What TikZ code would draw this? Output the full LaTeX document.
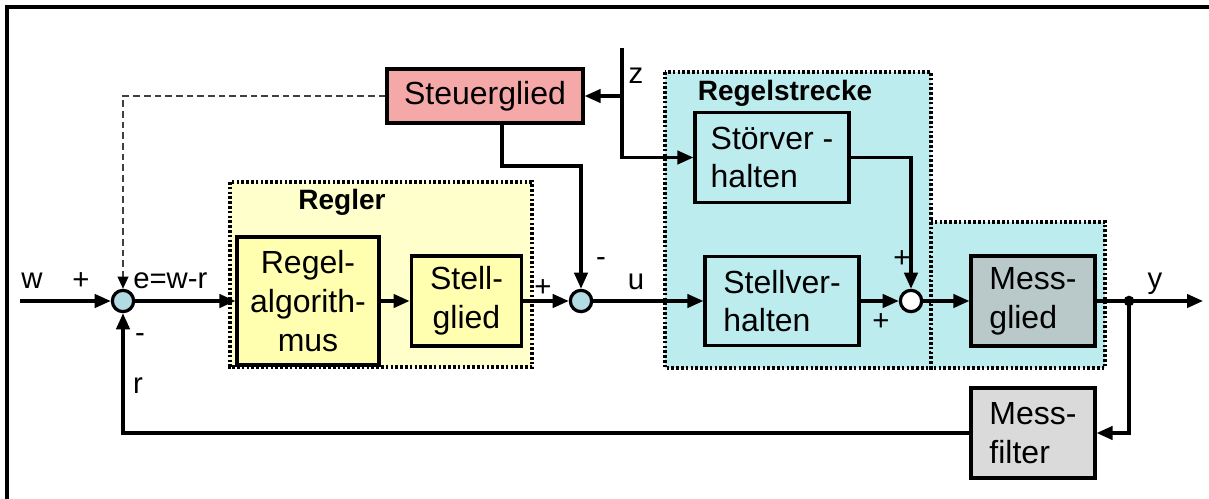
\documentclass[tikz,border=0pt]{standalone}
\usepackage{fontspec}
\setmainfont{Liberation Sans}
\usetikzlibrary{arrows.meta}

\definecolor{reglerbg}{HTML}{FFFFCC}
\definecolor{reglerbox}{HTML}{FFFFAF}
\definecolor{streckebg}{HTML}{BDECEE}
\definecolor{steuerfill}{HTML}{F5A8A8}
\definecolor{sumfill}{HTML}{B2DCE4}
\definecolor{messglfill}{HTML}{B9C9C9}
\definecolor{messfifill}{HTML}{DADADA}

\tikzset{
  block/.style={draw, line width=2.4pt, inner sep=0pt, align=center, font=\fontsize{24}{29}\selectfont},
  lblock/.style={block, align=left},
  sumpt/.style={draw, circle, line width=2.4pt, minimum size=16pt, inner sep=0pt, fill=sumfill},
  region/.style={line width=2.6pt, dash pattern=on 2pt off 1.6pt},
  arr/.style={line width=2.4pt, -{Triangle[length=12pt,width=10pt]}},
  lbl/.style={font=\fontsize{22}{26}\selectfont, inner sep=0pt},
}

\begin{document}
\begin{tikzpicture}[x=0.75pt, y=-0.75pt]
\useasboundingbox (0,0) rectangle (1209,499);

% frame
\draw[line width=3pt] (7,499) -- (7,7) -- (1209,7);

% regions
\draw[region, fill=reglerbg] (230,182) rectangle (532,367);
\draw[region, fill=streckebg] (665,72) rectangle (931,368);
\draw[region, fill=streckebg] (931,222) rectangle (1105,368);
\node[lbl, font=\fontsize{21}{25}\selectfont\bfseries] at (342,202) {Regler};
\node[lbl, font=\fontsize{21}{25}\selectfont\bfseries] at (785,93) {Regelstrecke};

% blocks
\node[block, fill=steuerfill, minimum width=147pt, minimum height=40.5pt] (steuer) at (485,96) {Steuerglied};
\node[block, fill=reglerbox, minimum width=106.5pt, minimum height=96pt] (regalg) at (308,301) {Regel-\\algorith-\\mus};
\node[block, fill=reglerbox, minimum width=83pt, minimum height=67.5pt] (stellgl) at (466.5,301) {Stell-\\glied};
\node[lblock, fill=streckebg, minimum width=115.5pt, minimum height=67pt] (stoer) at (772,157.5) {Störver -\\halten};
\node[lblock, fill=streckebg, minimum width=115.5pt, minimum height=67pt] (stellvh) at (782,301) {Stellver-\\halten};
\node[lblock, fill=messglfill, minimum width=93pt, minimum height=67.5pt] (messgl) at (1033,301) {Mess-\\glied};
\node[lblock, fill=messfifill, minimum width=93pt, minimum height=67.5pt] (messfi) at (1033,433) {Mess-\\filter};

% summing points
\node[sumpt] (sum1) at (123,301) {};
\node[sumpt] (sum2) at (581,301) {};
\node[sumpt, fill=white] (sum3) at (911,301) {};

\coordinate (win) at (20,301);
\coordinate (yout) at (1203,301);
\coordinate (ydot) at (1129,301);
\coordinate (ztop) at (622,48);
\coordinate (zk) at (622,96);
\coordinate (s1) at (502,166);

% signal paths
\draw[arr] (win) -- (sum1);
\draw[arr] (sum1) -- (regalg);
\draw[arr] (regalg) -- (stellgl);
\draw[arr] (stellgl) -- (sum2);
\draw[arr] (sum2) -- (stellvh);
\draw[arr] (stellvh) -- (sum3);
\draw[arr] (sum3) -- (messgl);
\draw[arr] (messgl) -- (yout);
\fill (ydot) circle (4pt);
\draw[arr] (ydot) |- (messfi.east);
\draw[arr] (messfi.west) -| (sum1.south);
\draw[arr] (ztop) |- (stoer.west);
\draw[arr] (zk) -- (steuer.east);
\draw[arr] (steuer.south -| s1) -- (s1) -| (sum2.north);
\draw[arr] (stoer.east) -| (sum3.north);
\draw[line width=1.1pt, dash pattern=on 5pt off 3pt, black!75] (steuer.west) -| ([yshift=9pt]sum1.north);
\draw[line width=1.1pt, -{Triangle[length=9pt,width=8pt]}] ([yshift=9pt]sum1.north) -- (sum1.north);

% labels
\node[lbl] at (32,281) {w};
\node[lbl] at (81,281) {+};
\node[lbl, anchor=west] at (133,281) {e=w-r};
\node[lbl] at (140,338) {-};
\node[lbl] at (138,386) {r};
\node[lbl] at (543,288) {+};
\node[lbl] at (601,262) {-};
\node[lbl] at (636,282) {u};
\node[lbl] at (636,76) {z};
\node[lbl] at (902,259) {+};
\node[lbl] at (881,322) {+};
\node[lbl] at (1155,284) {y};

\end{tikzpicture}
\end{document}
